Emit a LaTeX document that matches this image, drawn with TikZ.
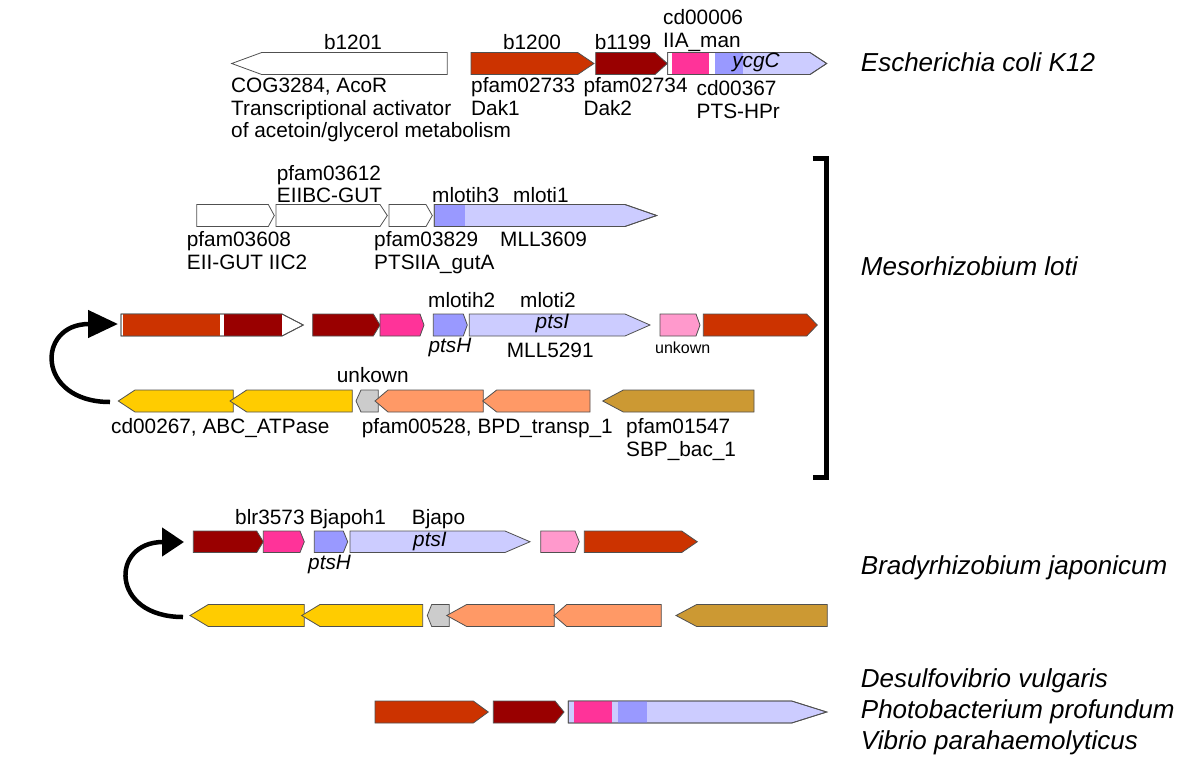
\documentclass[tikz,border=0pt]{standalone}
\usepackage{fontspec}
\setmainfont{Liberation Sans}
\usetikzlibrary{arrows.meta}
\definecolor{orangered}{HTML}{CC3300}
\definecolor{darkred}{HTML}{990000}
\definecolor{hotpink}{HTML}{FF3399}
\definecolor{softpink}{HTML}{FF99CC}
\definecolor{medblue}{HTML}{9999FF}
\definecolor{lightblue}{HTML}{CCCCFF}
\definecolor{goldy}{HTML}{FFCC00}
\definecolor{salmon}{HTML}{FF9966}
\definecolor{tanny}{HTML}{CC9933}
\definecolor{greyish}{HTML}{CCCCCC}
\definecolor{edge}{HTML}{505050}
\newcommand\GeneR[6]{%
  \pgfmathsetmacro\gmid{(#4+#5)/2}%
  \filldraw[gene,fill=#6] (#1,#4) -- (#2,#4) -- (#3,\gmid) -- (#2,#5) -- (#1,#5) -- cycle;}
\newcommand\GeneRo[5]{%
  \pgfmathsetmacro\gmid{(#4+#5)/2}%
  \draw[gene] (#1,#4) -- (#2,#4) -- (#3,\gmid) -- (#2,#5) -- (#1,#5) -- cycle;}
\newcommand\GeneL[6]{%
  \pgfmathsetmacro\gmid{(#4+#5)/2}%
  \filldraw[gene,fill=#6] (#1,\gmid) -- (#2,#4) -- (#3,#4) -- (#3,#5) -- (#2,#5) -- cycle;}
\begin{document}
\begin{tikzpicture}[x=1pt,y=-1pt,
  gene/.style={draw=edge,line width=0.8pt,line join=miter},
  lbl/.style={inner sep=0pt,font=\fontsize{20.8}{23}\selectfont},
  small/.style={inner sep=0pt,font=\fontsize{16}{18}\selectfont},
  org/.style={inner sep=0pt,anchor=base west,font=\fontsize{26}{30}\selectfont\itshape},
  loop/.style={line width=4.5pt,-{Triangle[length=30pt,width=27pt]}},
  loopb/.style={line width=4.5pt,-{Triangle[length=22pt,width=28pt]}},
  bracketline/.style={line width=5pt,line join=miter}]
\useasboundingbox (0,0) rectangle (1200,761);

% ---------------- Escherichia coli K12 ----------------
\GeneL{231.7}{261.7}{447.3}{52.5}{74.5}{white}
\GeneR{471}{577.7}{594}{52.5}{74.5}{orangered}
\GeneR{595.7}{655}{667.3}{52.5}{74.5}{darkred}
\GeneR{667.7}{810}{826.7}{52.5}{74.5}{lightblue}
\fill[white] (668.1,52.9) rectangle (672,74.1);
\fill[hotpink] (672,52.9) rectangle (709.3,74.1);
\fill[white] (709.3,52.9) rectangle (715,74.1);
\fill[medblue] (715,52.9) rectangle (743,74.1);
\GeneRo{667.7}{810}{826.7}{52.5}{74.5}

\node[lbl,anchor=base] (t-b1201) at (353,49) {b1201};
\node[lbl,anchor=base] (t-b1200) at (532,49) {b1200};
\node[lbl,anchor=base] (t-b1199) at (623,49) {b1199};
\node[lbl,anchor=base west] (t-cd6) at (663,24) {cd00006};
\node[lbl,anchor=base west] (t-iia) at (663,47) {IIA\_man};
\node[lbl,anchor=base] (t-ycgc) at (756,67) {\itshape ycgC};
\node[lbl,anchor=base west] (t-cog) at (231,92.5) {COG3284, AcoR};
\node[lbl,anchor=base west] (t-tra) at (231,115) {Transcriptional activator};
\node[lbl,anchor=base west] (t-ace) at (231,137.5) {of acetoin/glycerol metabolism};
\node[lbl,anchor=base west] (t-p2733) at (471,92.5) {pfam02733};
\node[lbl,anchor=base west] (t-dak1) at (471,115) {Dak1};
\node[lbl,anchor=base west] (t-p2734) at (583.3,92.5) {pfam02734};
\node[lbl,anchor=base west] (t-dak2) at (583.3,115) {Dak2};
\node[lbl,anchor=base west] (t-cd367) at (696.5,95) {cd00367};
\node[lbl,anchor=base west] (t-hpr) at (696.5,118) {PTS-HPr};
\node[org] (o-eco) at (860.7,71.5) {Escherichia coli K12};

% ---------------- Mesorhizobium loti ----------------
% row 1
\GeneR{196.7}{268.3}{274.3}{204.5}{226.5}{white}
\GeneR{276}{380}{387.3}{204.5}{226.5}{white}
\GeneR{389}{426}{432.3}{204.5}{226.5}{white}
\GeneR{434.3}{625}{656.7}{204.5}{226.5}{lightblue}
\fill[medblue] (434.7,204.9) rectangle (465,226.1);
\GeneRo{434.3}{625}{656.7}{204.5}{226.5}

\node[lbl,anchor=base west] (t-p3612) at (276.7,180) {pfam03612};
\node[lbl,anchor=base west] (t-eiibc) at (276.7,202) {EIIBC-GUT};
\node[lbl,anchor=base west] (t-mh3) at (432,202) {mlotih3};
\node[lbl,anchor=base west] (t-m1) at (513,202) {mloti1};
\node[lbl,anchor=base west] (t-p3608) at (186.7,246) {pfam03608};
\node[lbl,anchor=base west] (t-eii) at (186.7,269) {EII-GUT IIC2};
\node[lbl,anchor=base west] (t-p3829) at (374,246) {pfam03829};
\node[lbl,anchor=base west] (t-gutA) at (374,269) {PTSIIA\_gutA};
\node[lbl,anchor=base west] (t-mll3609) at (500,246) {MLL3609};

% row 2
\GeneR{121}{282}{303.3}{314}{336}{white}
\fill[orangered] (122.5,314.4) rectangle (220,335.6);
\fill[darkred] (224,314.4) rectangle (282,335.6);
\GeneRo{121}{282}{303.3}{314}{336}
\GeneR{312.7}{373.3}{380}{314}{336}{darkred}
\GeneR{380}{420}{424}{314}{336}{hotpink}
\GeneR{433.3}{463.3}{467.3}{314}{336}{medblue}
\GeneR{469.3}{625}{650}{314}{336}{lightblue}
\GeneR{660}{696}{700}{314}{336}{softpink}
\GeneR{703.3}{806.7}{817.3}{314}{336}{orangered}

\node[lbl,anchor=base west] (t-mh2) at (428,307) {mlotih2};
\node[lbl,anchor=base west] (t-m2) at (520,307) {mloti2};
\node[lbl,anchor=base] (t-ptsI1) at (552.5,328) {\itshape ptsI};
\node[lbl,anchor=base west] (t-ptsH1) at (428.3,352) {\itshape ptsH};
\node[lbl,anchor=base west] (t-mll5291) at (506.7,357) {MLL5291};
\node[small,anchor=base west] (t-unk1) at (655,353) {unkown};

% row 3
\GeneL{118.3}{135}{233.3}{390}{412}{goldy}
\GeneL{230}{246.7}{352.3}{390}{412}{goldy}
\GeneL{356}{361}{378.3}{390}{412}{greyish}
\GeneL{375}{388}{483.3}{390}{412}{salmon}
\GeneL{482.7}{496.7}{590}{390}{412}{salmon}
\GeneL{602.7}{623.3}{754}{390}{412}{tanny}

\node[lbl,anchor=base west] (t-unk2) at (336.7,382) {unkown};
\node[lbl,anchor=base west] (t-cd267) at (111,433) {cd00267, ABC\_ATPase};
\node[lbl,anchor=base west] (t-p528) at (361.7,433) {pfam00528, BPD\_transp\_1};
\node[lbl,anchor=base west] (t-p1547) at (626,433) {pfam01547};
\node[lbl,anchor=base west] (t-sbp) at (626,456) {SBP\_bac\_1};

\coordinate (m-from) at (110,402);
\coordinate (m-to) at (118,324);
\draw[loop] (m-from) .. controls (36,402) and (36,324) .. (m-to);

\draw[bracketline] (812.7,158.5) -- (826,158.5) -- (826,477.5) -- (812.7,477.5);
\node[org] (o-mlo) at (860.7,275.5) {Mesorhizobium loti};

% ---------------- Bradyrhizobium japonicum ----------------
\GeneR{193.3}{256.7}{263.3}{531}{552.5}{darkred}
\GeneR{263.3}{300}{304.3}{531}{552.5}{hotpink}
\GeneR{314.3}{343.3}{347.7}{531}{552.5}{medblue}
\GeneR{350}{505}{530}{531}{552.5}{lightblue}
\GeneR{540.7}{575}{579.3}{531}{552.5}{softpink}
\GeneR{584.3}{681.7}{697.3}{531}{552.5}{orangered}

\node[lbl,anchor=base west] (t-blr) at (235,524.5) {blr3573};
\node[lbl,anchor=base west] (t-bjh1) at (309.3,524.5) {Bjapoh1};
\node[lbl,anchor=base west] (t-bj) at (411.7,524.5) {Bjapo};
\node[lbl,anchor=base] (t-ptsI2) at (430,546) {\itshape ptsI};
\node[lbl,anchor=base west] (t-ptsH2) at (308,569) {\itshape ptsH};

\GeneL{190}{208.3}{304.3}{604.5}{626.5}{goldy}
\GeneL{301.7}{320}{422.7}{604.5}{626.5}{goldy}
\GeneL{427.3}{431.7}{449.3}{604.5}{626.5}{greyish}
\GeneL{446.7}{466.7}{554.3}{604.5}{626.5}{salmon}
\GeneL{554}{566.7}{661.3}{604.5}{626.5}{salmon}
\GeneL{676}{696.7}{827.3}{604.5}{626.5}{tanny}

\coordinate (b-from) at (183,617);
\coordinate (b-to) at (184,542);
\draw[loopb] (b-from) .. controls (110,617) and (110,542) .. (b-to);

\node[org] (o-bja) at (860.7,574) {Bradyrhizobium japonicum};

% ---------------- bottom ----------------
\GeneR{375}{473.3}{488.3}{701}{723}{orangered}
\GeneR{493.3}{555}{564}{701}{723}{darkred}
\GeneR{568.3}{791.7}{826.7}{701}{723}{lightblue}
\fill[hotpink] (574,701.4) rectangle (611.7,722.6);
\fill[medblue] (617.7,701.4) rectangle (646.7,722.6);
\GeneRo{568.3}{791.7}{826.7}{701}{723}

\node[org] (o-dvu) at (860.7,687) {Desulfovibrio vulgaris};
\node[org] (o-ppr) at (860.7,718) {Photobacterium profundum};
\node[org] (o-vpa) at (860.7,749) {Vibrio parahaemolyticus};
\end{tikzpicture}
\end{document}
